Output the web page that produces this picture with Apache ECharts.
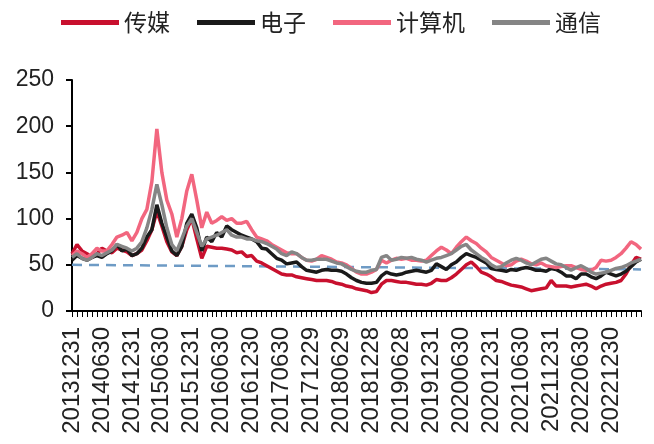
<!DOCTYPE html>
<html>
<head>
<meta charset="utf-8">
<script src="https://cdn.jsdelivr.net/npm/echarts@6/dist/echarts.min.js"></script>
<style>html,body{margin:0;padding:0;background:#fff}#c{width:654px;height:444px}</style>
</head>
<body>
<div id="c"></div>
<script>
const categories = [
"20131231",
"20140130","20140228","20140331","20140430","20140530","20140630","20140731","20140829","20140930","20141031","20141128","20141231",
"20150130","20150227","20150331","20150430","20150529","20150630","20150731","20150831","20150930","20151030","20151130","20151231",
"20160129","20160229","20160331","20160429","20160531","20160630","20160729","20160831","20160930","20161031","20161130","20161230",
"20170126","20170228","20170331","20170428","20170531","20170630","20170731","20170831","20170929","20171031","20171130","20171229",
"20180131","20180228","20180330","20180427","20180531","20180629","20180731","20180831","20180928","20181031","20181130","20181228",
"20190131","20190228","20190329","20190430","20190531","20190628","20190731","20190830","20190930","20191031","20191129","20191231",
"20200123","20200228","20200331","20200430","20200529","20200630","20200731","20200831","20200930","20201030","20201130","20201231",
"20210129","20210226","20210331","20210430","20210531","20210630","20210730","20210831","20210930","20211029","20211130","20211231",
"20220128","20220228","20220331","20220429","20220531","20220630","20220729","20220831","20220930","20221031","20221130","20221230",
"20230131","20230228","20230331","20230428","20230531","20230630"
];
const media = [
62,72,65,62,58,62,68,65,63,68,66,64,60,62,66,76,88,
108,92,75,64,60,70,88,100,78,57,70,69,68,68,67,66,63,64,59,
60,54,52,49,46,43,40,39,39,37,36,35,34,33,33,33,
32,30,29,27,26,24,23,22,20,21,29,33,33,32,31,31,30,29,29,
28,30,34,33,33,36,40,45,50,53,48,42,40,37,33,32,30,28,27,26,
24,22,23,24,25,33,27,27,27,26,27,28,29,27,24,27,29,30,31,33,
40,50,58,56
];
const electronics = [
55,60,57,55,58,60,58,62,65,72,65,67,60,62,68,80,88,
115,95,80,65,60,70,95,105,90,65,80,75,85,80,92,88,85,82,80,
78,75,68,67,62,57,55,51,52,53,48,44,43,42,44,45,
44,44,43,40,36,33,31,30,30,31,38,42,40,39,40,42,43,44,43,
42,44,51,48,45,50,53,58,62,60,58,55,52,46,45,44,43,45,44,46,
47,46,44,44,43,46,45,42,38,38,35,40,40,37,35,38,42,40,38,40,
43,48,53,56
];
const computer = [
60,65,62,58,62,68,65,65,72,80,82,85,76,85,100,110,140,
197,150,120,105,80,100,130,148,120,90,107,95,98,102,98,100,95,95,97,
88,80,78,76,72,69,66,63,62,62,58,55,54,56,60,58,
56,53,52,50,46,42,40,40,42,45,55,52,55,57,56,57,55,55,54,
55,60,65,69,66,62,69,75,80,76,73,68,64,58,55,52,49,50,54,56,
54,51,50,52,49,48,47,48,49,49,47,45,44,44,47,55,54,55,58,62,
68,75,72,67
];
const telecom = [
58,62,57,55,58,62,60,63,66,72,70,68,65,68,75,90,110,
137,115,90,72,65,78,92,100,85,70,78,80,82,85,88,82,80,80,78,
78,76,75,73,70,67,62,60,64,62,58,55,55,56,56,56,
54,52,51,48,45,43,42,42,44,45,58,60,55,56,58,57,58,56,55,
53,55,57,58,60,62,66,70,72,66,62,58,55,50,47,48,52,55,57,55,
52,50,53,56,57,54,51,50,47,44,47,49,46,42,40,41,42,44,46,47,
49,52,54,56
];
const refStart = 50;
const refEnd = 45;
const yTicks = [0, 50, 100, 150, 200, 250];
const seriesNames = ["传媒", "电子", "计算机", "通信"];

const refLine = categories.map((c, i) => i === 0 ? refStart : (i === categories.length - 1 ? refEnd : null));

const chart = echarts.init(document.getElementById('c'), null, {renderer: 'canvas'});
const colors = ['#C8102E', '#1A1A1A', '#F2667F', '#858585'];
const dataSets = [media, electronics, computer, telecom];
const lineSeries = seriesNames.map((n, k) => ({
  name: n, type: 'line', data: dataSets[k], symbol: 'none', smooth: false,
  lineStyle: {color: colors[k], width: 3.5}, itemStyle: {color: colors[k]}, z: 3 + k
}));
chart.setOption({
  animation: false,
  backgroundColor: '#fff',
  legend: {
    top: 6, left: 56,
    data: seriesNames,
    icon: 'rect', itemWidth: 58, itemHeight: 5, itemGap: 27,
    textStyle: {fontSize: 23, color: '#222', fontFamily: 'Noto Sans CJK SC', padding: [0, 0, 0, 0]}
  },
  grid: {left: 72, right: 13, top: 80, bottom: 133, containLabel: false},
  xAxis: {
    type: 'category', data: categories, boundaryGap: false,
    axisLine: {lineStyle: {color: '#000', width: 2}},
    axisTick: {show: true, interval: 0, length: 6, lineStyle: {color: '#000', width: 1}},
    axisLabel: {
      rotate: 90, fontSize: 24, color: '#222', fontFamily: 'Liberation Sans', margin: 16,
      interval: (idx) => idx % 6 === 0 && idx < categories.length - 1
    },
    splitLine: {show: false}
  },
  yAxis: {
    type: 'value', min: yTicks[0], max: yTicks[yTicks.length - 1], interval: 50,
    axisLine: {show: true, lineStyle: {color: '#000', width: 2}},
    axisTick: {show: true, length: 6, lineStyle: {color: '#000', width: 2}},
    axisLabel: {fontSize: 23, color: '#222', fontFamily: 'Liberation Sans', margin: 18},
    splitLine: {show: false}
  },
  series: [{
    name: '参考', type: 'line', data: refLine, connectNulls: true, symbol: 'none',
    lineStyle: {color: '#6E9BC5', width: 2.5, type: [10, 7]}, z: 2, silent: true
  }].concat(lineSeries)
});
</script>
</body>
</html>
